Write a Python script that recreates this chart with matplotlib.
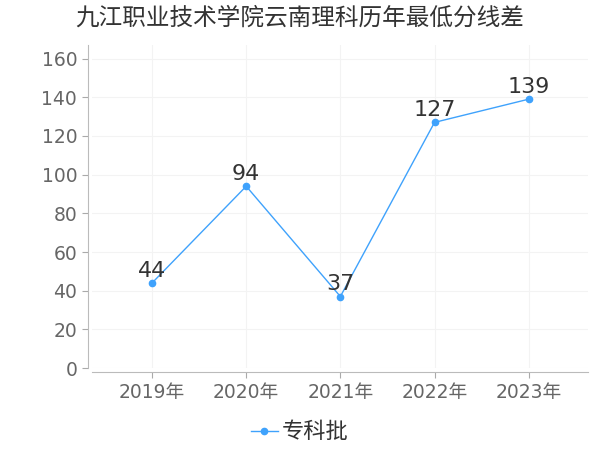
import matplotlib.pyplot as plt
import numpy as np

plt.rcParams['font.family'] = ['DejaVu Sans', 'Noto Sans CJK SC']

# 数据
years = ['2019年', '2020年', '2021年', '2022年', '2023年']
series_name = '专科批'
scores = [44, 94, 37, 127, 139]

x = np.arange(len(years))
color = '#3fa2fc'
text_color = '#666666'

fig = plt.figure(figsize=(6, 4.5), dpi=100)
ax = fig.add_axes([0.153, 0.182, 0.827, 0.718])

ax.plot(x, scores, color=color, lw=1, marker='o', ms=4.5, label=series_name)
for xi, v in zip(x, scores):
    ax.annotate(str(v), xy=(xi, v), xytext=(0, 1.5), textcoords='offset points',
                ha='center', va='bottom', fontsize=16, color='#333333')

ax.set_xlim(-0.64, 4.63)
ax.set_ylim(0, 167)
ax.set_yticks(range(0, 161, 20))
ax.set_xticks(x)
ax.set_xticklabels(years)
ax.tick_params(axis='both', labelsize=13.5, colors='#aaaaaa', labelcolor=text_color, length=4)

ax.grid(True, color='#f3f3f3', lw=0.8)
ax.set_axisbelow(True)
for s in ['top', 'right']:
    ax.spines[s].set_visible(False)
for s in ['left', 'bottom']:
    ax.spines[s].set_color('#bbbbbb')
    ax.spines[s].set_position(('outward', 3))

fig.suptitle('九江职业技术学院云南理科历年最低分线差', fontsize=17, color='#333333', y=0.985,
             family=['Noto Sans CJK SC', 'DejaVu Sans'])
fig.legend(loc='lower center', bbox_to_anchor=(0.5, -0.03), frameon=False,
           handlelength=1.2, handletextpad=0.2, labelcolor='#333333',
           prop={'family': ['Noto Sans CJK SC', 'DejaVu Sans'], 'size': 16})

fig.savefig('out.png', dpi=100)
